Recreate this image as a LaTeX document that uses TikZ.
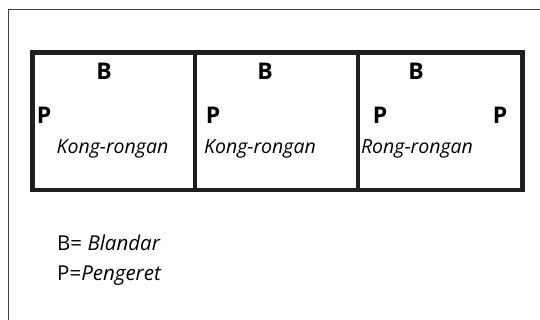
\documentclass[tikz,border=0pt]{standalone}
\usepackage{fontspec}
\setmainfont{Open Sans}
\begin{document}
\begin{tikzpicture}[x=1pt,y=-1pt]
\useasboundingbox (0,0) rectangle (540,320);
\draw[line width=1.2pt,black!75] (8.5,320) -- (8.5,9.5) -- (540,9.5);
\begin{scope}[line width=4.5pt,draw=black!88]
    \draw (32.5,52.5) rectangle (522.5,190);
    \draw (195,52.5) -- (195,190);
    \draw[line cap=round] (358,52.5) -- (358,187);
\end{scope}
\begin{scope}[every node/.style={inner sep=0pt,font=\fontsize{23}{27}\selectfont\bfseries}]
    \node (B1) at (104,71.5) {B};
    \node (B2) at (265,71.5) {B};
    \node (B3) at (416,71.5) {B};
    \node (P1) at (44,115) {P};
    \node (P2) at (213,115) {P};
    \node (P3) at (380,115) {P};
    \node (P4) at (500,115) {P};
\end{scope}
\begin{scope}[every node/.style={inner sep=0pt,anchor=base,font=\fontsize{19.5}{23}\selectfont\itshape}]
    \node (R1) at (112.5,154) {Kong-rongan};
    \node (R2) at (260,154) {Kong-rongan};
    \node (R3) at (417,154) {Rong-rongan};
\end{scope}
\begin{scope}[every node/.style={inner sep=0pt,anchor=base west,font=\fontsize{20.5}{24}\selectfont}]
    \node (L1) at (57,250) {B= \textit{Blandar}};
    \node (L2) at (57,280) {P=\textit{Pengeret}};
\end{scope}
\end{tikzpicture}
\end{document}
